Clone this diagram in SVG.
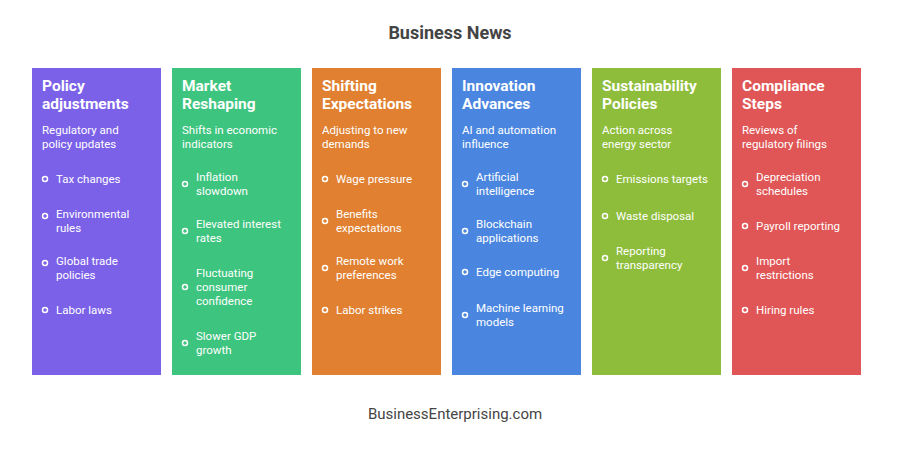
<svg xmlns="http://www.w3.org/2000/svg" width="900" height="451" viewBox="0 0 900 451">
<style>
text{font-family:Roboto,"Liberation Sans",sans-serif;fill:#fff}
.t{font-size:18px;font-weight:bold;fill:#444}
.f{font-size:15px;fill:#444}
.h{font-size:15.5px;font-weight:bold}
.s{font-size:11.5px}
.i{font-size:11.5px}
.b{fill:none;stroke:#fff;stroke-width:1.5}
</style>
<rect width="900" height="451" fill="#fff"/>
<text class="t" x="450" y="39" text-anchor="middle">Business News</text>
<g id="c1"><rect x="32" y="68" width="129" height="307" fill="#7B61E8"/>
<text class="h" x="42" y="91">Policy</text><text class="h" x="42" y="109">adjustments</text>
<text class="s" x="42" y="134">Regulatory and</text><text class="s" x="42" y="148">policy updates</text>
<circle class="b" cx="45" cy="179" r="2.5"/><text class="i" x="56" y="183">Tax changes</text>
<circle class="b" cx="45" cy="216" r="2.5"/><text class="i" x="56" y="218">Environmental</text><text class="i" x="56" y="232">rules</text>
<circle class="b" cx="45" cy="263" r="2.5"/><text class="i" x="56" y="265">Global trade</text><text class="i" x="56" y="279">policies</text>
<circle class="b" cx="45" cy="310" r="2.5"/><text class="i" x="56" y="314">Labor laws</text></g>
<g id="c2"><rect x="172" y="68" width="129" height="307" fill="#3DC47E"/>
<text class="h" x="182" y="91">Market</text><text class="h" x="182" y="109">Reshaping</text>
<text class="s" x="182" y="134">Shifts in economic</text><text class="s" x="182" y="148">indicators</text>
<circle class="b" cx="185" cy="184" r="2.5"/><text class="i" x="196" y="181">Inflation</text><text class="i" x="196" y="195">slowdown</text>
<circle class="b" cx="185" cy="231" r="2.5"/><text class="i" x="196" y="228">Elevated interest</text><text class="i" x="196" y="242">rates</text>
<circle class="b" cx="185" cy="287" r="2.5"/><text class="i" x="196" y="277">Fluctuating</text><text class="i" x="196" y="291">consumer</text><text class="i" x="196" y="305">confidence</text>
<circle class="b" cx="185" cy="343" r="2.5"/><text class="i" x="196" y="340">Slower GDP</text><text class="i" x="196" y="354">growth</text></g>
<g id="c3"><rect x="312" y="68" width="129" height="307" fill="#E08030"/>
<text class="h" x="322" y="91">Shifting</text><text class="h" x="322" y="109">Expectations</text>
<text class="s" x="322" y="134">Adjusting to new</text><text class="s" x="322" y="148">demands</text>
<circle class="b" cx="325" cy="179" r="2.5"/><text class="i" x="336" y="183">Wage pressure</text>
<circle class="b" cx="325" cy="221" r="2.5"/><text class="i" x="336" y="218">Benefits</text><text class="i" x="336" y="232">expectations</text>
<circle class="b" cx="325" cy="268" r="2.5"/><text class="i" x="336" y="265">Remote work</text><text class="i" x="336" y="279">preferences</text>
<circle class="b" cx="325" cy="310" r="2.5"/><text class="i" x="336" y="314">Labor strikes</text></g>
<g id="c4"><rect x="452" y="68" width="129" height="307" fill="#4A86E0"/>
<text class="h" x="462" y="91">Innovation</text><text class="h" x="462" y="109">Advances</text>
<text class="s" x="462" y="134">AI and automation</text><text class="s" x="462" y="148">influence</text>
<circle class="b" cx="465" cy="184" r="2.5"/><text class="i" x="476" y="181">Artificial</text><text class="i" x="476" y="195">intelligence</text>
<circle class="b" cx="465" cy="231" r="2.5"/><text class="i" x="476" y="228">Blockchain</text><text class="i" x="476" y="242">applications</text>
<circle class="b" cx="465" cy="272" r="2.5"/><text class="i" x="476" y="276">Edge computing</text>
<circle class="b" cx="465" cy="315" r="2.5"/><text class="i" x="476" y="312">Machine learning</text><text class="i" x="476" y="326">models</text></g>
<g id="c5"><rect x="592" y="68" width="129" height="307" fill="#8DBD3A"/>
<text class="h" x="602" y="91">Sustainability</text><text class="h" x="602" y="109">Policies</text>
<text class="s" x="602" y="134">Action across</text><text class="s" x="602" y="148">energy sector</text>
<circle class="b" cx="605" cy="179" r="2.5"/><text class="i" x="616" y="183">Emissions targets</text>
<circle class="b" cx="605" cy="216" r="2.5"/><text class="i" x="616" y="220">Waste disposal</text>
<circle class="b" cx="605" cy="258" r="2.5"/><text class="i" x="616" y="255">Reporting</text><text class="i" x="616" y="269">transparency</text></g>
<g id="c6"><rect x="732" y="68" width="129" height="307" fill="#E05555"/>
<text class="h" x="742" y="91">Compliance</text><text class="h" x="742" y="109">Steps</text>
<text class="s" x="742" y="134">Reviews of</text><text class="s" x="742" y="148">regulatory filings</text>
<circle class="b" cx="745" cy="184" r="2.5"/><text class="i" x="756" y="181">Depreciation</text><text class="i" x="756" y="195">schedules</text>
<circle class="b" cx="745" cy="226" r="2.5"/><text class="i" x="756" y="230">Payroll reporting</text>
<circle class="b" cx="745" cy="268" r="2.5"/><text class="i" x="756" y="265">Import</text><text class="i" x="756" y="279">restrictions</text>
<circle class="b" cx="745" cy="310" r="2.5"/><text class="i" x="756" y="314">Hiring rules</text></g>
<g id="connectors"/>
<text class="f" x="455" y="419" text-anchor="middle">BusinessEnterprising.com</text>
</svg>
